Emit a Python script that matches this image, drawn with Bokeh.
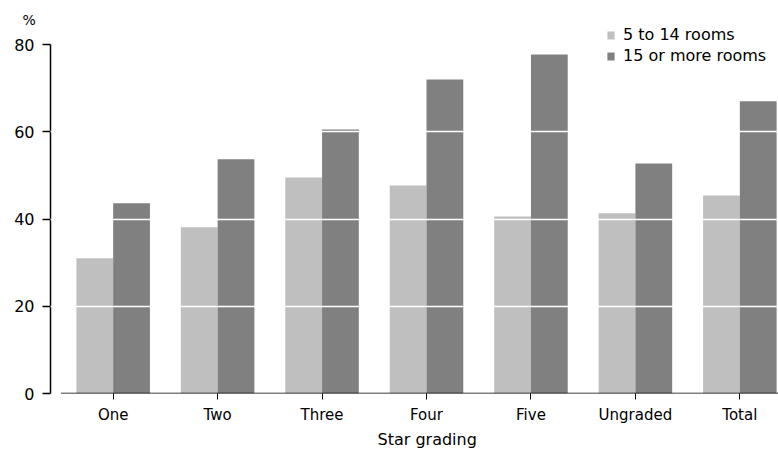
from bokeh.plotting import figure
from bokeh.models import FixedTicker, Legend, LegendItem, Range1d, ColumnDataSource, Title
from bokeh.transform import dodge
from bokeh.embed import file_html
from bokeh.resources import INLINE

categories = ["One", "Two", "Three", "Four", "Five", "Ungraded", "Total"]
small_rooms = [31.0, 38.1, 49.5, 47.7, 40.6, 41.3, 45.4]
large_rooms = [43.6, 53.7, 60.5, 72.0, 77.7, 52.7, 67.0]
series_names = ["5 to 14 rooms", "15 or more rooms"]
y_ticks = [0, 20, 40, 60, 80]

FONT = "DejaVu Sans"
LIGHT = "#bfbfbf"
DARK = "#808080"
bar_w = 0.352

xs = list(range(len(categories)))
x_start = -0.60
x_end = 6.37

TOP = 26          # frame top in px
Y_MAX = 80
y_end = Y_MAX * (393 - TOP) / 349.0

p = figure(width=778, height=452, output_backend="svg", toolbar_location=None,
           x_range=Range1d(x_start, x_end), y_range=Range1d(0, y_end),
           min_border_left=50, min_border_right=0, min_border_top=TOP, min_border_bottom=59)
p.outline_line_color = None
p.background_fill_color = "white"

t = Title(text="%", align="left", offset=-28, standoff=-3,
          text_font=FONT, text_font_size="14px", text_font_style="normal", text_color="black")
p.add_layout(t, "above")

src = ColumnDataSource(dict(x=xs, small=small_rooms, large=large_rooms))
r1 = p.vbar(x=dodge("x", -bar_w / 2), top="small", width=bar_w, source=src,
            fill_color=LIGHT, line_color=None)
r2 = p.vbar(x=dodge("x", bar_w / 2), top="large", width=bar_w, source=src,
            fill_color=DARK, line_color=None)

# x-axis baseline beginning at the first category's edge
p.segment(x0=[-0.5], y0=[0], x1=[x_end], y1=[0], line_color="black", line_width=1.5)

p.xgrid.visible = False
p.ygrid.ticker = FixedTicker(ticks=[20, 40, 60])
p.ygrid.grid_line_color = "white"
p.ygrid.grid_line_width = 1.5
p.ygrid.level = "overlay"

xa = p.xaxis[0]
xa.ticker = FixedTicker(ticks=xs)
xa.major_label_overrides = {i: c for i, c in enumerate(categories)}
xa.axis_line_color = None
xa.major_tick_out = 6
xa.major_tick_in = 0
xa.minor_tick_line_color = None
xa.major_tick_line_color = "black"
xa.major_label_text_font = FONT
xa.major_label_text_font_size = "15px"
xa.major_label_text_color = "black"
xa.major_label_standoff = 6

xt = Title(text="Star grading", align="left", offset=327, standoff=2,
           text_font=FONT, text_font_size="16px", text_font_style="normal", text_color="black")
p.add_layout(xt, "below")

ya = p.yaxis[0]
ya.ticker = FixedTicker(ticks=y_ticks)
ya.bounds = (0, Y_MAX)
ya.axis_line_color = "black"
ya.axis_line_width = 1.5
ya.major_tick_out = 8
ya.major_tick_in = 0
ya.major_tick_line_color = "black"
ya.major_tick_line_width = 1.5
ya.minor_tick_line_color = None
ya.major_label_text_font = FONT
ya.major_label_text_font_size = "16px"
ya.major_label_text_color = "black"
ya.major_label_standoff = 8

legend = Legend(items=[LegendItem(label=series_names[0], renderers=[r1]),
                       LegendItem(label=series_names[1], renderers=[r2])],
                location=(556, 328), orientation="vertical")
legend.border_line_color = None
legend.background_fill_alpha = 0
legend.padding = 0
legend.margin = 0
legend.spacing = 2
legend.glyph_width = 9
legend.glyph_height = 10
legend.label_height = 16
legend.label_standoff = 8
legend.label_text_font = FONT
legend.label_text_font_size = "16px"
legend.label_text_color = "black"
legend.label_text_baseline = "middle"
p.add_layout(legend, "center")

open("out.html", "w").write(file_html(p, INLINE))
